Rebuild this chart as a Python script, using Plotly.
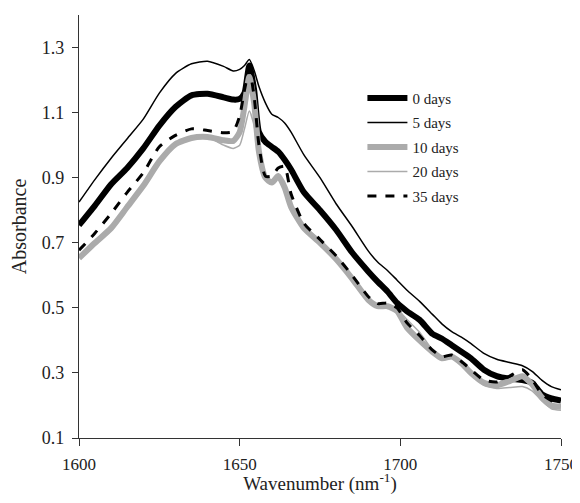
import plotly.graph_objects as go

wavenumber = [1600, 1605, 1610, 1615, 1620, 1625, 1630, 1635, 1640, 1645, 1648, 1650,
              1651.5, 1653, 1654.5, 1656, 1658, 1660, 1662, 1664, 1666, 1670, 1675,
              1680, 1685, 1690, 1693, 1696, 1699, 1702, 1706, 1710, 1713, 1716, 1719,
              1722, 1726, 1730, 1734, 1738, 1741, 1744, 1747, 1750]

days_0 = [0.754, 0.815, 0.88, 0.93, 0.99, 1.06, 1.117, 1.153, 1.158, 1.147, 1.14, 1.142,
          1.16, 1.245, 1.17, 1.04, 1.01, 0.995, 0.98, 0.955, 0.925, 0.855, 0.80,
          0.74, 0.67, 0.612, 0.58, 0.55, 0.515, 0.49, 0.463, 0.42, 0.405, 0.385, 0.365,
          0.345, 0.31, 0.29, 0.282, 0.278, 0.27, 0.235, 0.222, 0.215]

days_5 = [0.825, 0.895, 0.96, 1.02, 1.08, 1.16, 1.22, 1.25, 1.258, 1.242, 1.228, 1.233,
          1.245, 1.263, 1.23, 1.18, 1.13, 1.095, 1.085, 1.068, 1.04, 0.97, 0.90,
          0.82, 0.75, 0.675, 0.64, 0.615, 0.585, 0.555, 0.52, 0.48, 0.45, 0.427, 0.41,
          0.39, 0.36, 0.342, 0.332, 0.322, 0.305, 0.278, 0.258, 0.248]

days_10 = [0.653, 0.70, 0.745, 0.81, 0.875, 0.95, 1.003, 1.022, 1.025, 1.015, 1.013, 1.04,
           1.12, 1.21, 1.13, 0.98, 0.90, 0.885, 0.905, 0.87, 0.81, 0.745, 0.70,
           0.65, 0.59, 0.525, 0.505, 0.505, 0.49, 0.44, 0.40, 0.365, 0.345, 0.35, 0.33,
           0.30, 0.27, 0.262, 0.275, 0.29, 0.265, 0.225, 0.20, 0.196]

days_20 = [0.655, 0.705, 0.75, 0.815, 0.88, 0.955, 1.005, 1.025, 1.025, 1.0, 0.99, 1.0,
           1.05, 1.105, 1.06, 0.96, 0.895, 0.88, 0.90, 0.87, 0.81, 0.745, 0.695,
           0.645, 0.585, 0.52, 0.50, 0.505, 0.495, 0.465, 0.425, 0.37, 0.34, 0.345, 0.325,
           0.295, 0.262, 0.252, 0.255, 0.258, 0.245, 0.215, 0.19, 0.185]

days_35 = [0.677, 0.73, 0.79, 0.855, 0.915, 0.995, 1.03, 1.05, 1.045, 1.038, 1.042, 1.09,
           1.17, 1.232, 1.15, 1.0, 0.905, 0.905, 0.93, 0.935, 0.85, 0.76, 0.71,
           0.66, 0.60, 0.535, 0.513, 0.515, 0.50, 0.455, 0.415, 0.37, 0.35, 0.355, 0.335,
           0.31, 0.278, 0.272, 0.29, 0.31, 0.28, 0.235, 0.215, 0.208]

series_names = ["0 days", "5 days", "10 days", "20 days", "35 days"]
x_ticks = [1600, 1650, 1700, 1750]
y_ticks = [0.1, 0.3, 0.5, 0.7, 0.9, 1.1, 1.3]

GRAY = "#ababab"
styles = [
    dict(color="black", width=6, dash="solid"),
    dict(color="black", width=1.5, dash="solid"),
    dict(color=GRAY, width=6, dash="solid"),
    dict(color=GRAY, width=1.5, dash="solid"),
    dict(color="black", width=3, dash="dash"),
]

fig = go.Figure()
for name, ys, st in zip(series_names, [days_0, days_5, days_10, days_20, days_35], styles):
    fig.add_trace(go.Scatter(
        x=wavenumber, y=ys, name=name, mode="lines",
        line=dict(color=st["color"], width=st["width"], dash=st["dash"],
                  shape="spline", smoothing=0.6),
        legendgroup=name,
    ))

font_family = "Liberation Serif, Times New Roman, serif"
# page body has an 8px default margin, so the figure is sized to fit the window
fig.update_layout(
    width=572, height=487,
    margin=dict(l=71, r=19, t=7, b=57),
    paper_bgcolor="white", plot_bgcolor="white",
    font=dict(family=font_family, color="#222", size=18),
    showlegend=True,
    legend=dict(
        x=0.588, y=0.842, xanchor="left", yanchor="top",
        font=dict(family=font_family, size=15, color="#222"),
        bgcolor="rgba(255,255,255,0)", tracegroupgap=2,
        itemwidth=40,
    ),
)
fig.update_xaxes(
    range=[1600, 1750], tickvals=x_ticks, ticktext=[str(v) for v in x_ticks],
    showline=True, linecolor="#333", linewidth=1.2, ticks="outside", ticklen=7,
    tickcolor="#333", showgrid=False, zeroline=False, automargin=False,
    tickfont=dict(size=17), ticklabelstandoff=3,
    title=dict(text="Wavenumber (nm<sup>-1</sup>)", font=dict(size=19), standoff=5),
)
fig.update_yaxes(
    range=[0.1, 1.4], tickvals=y_ticks, ticktext=[f"{v:.1f}" for v in y_ticks],
    showline=True, linecolor="#333", linewidth=1.2, ticks="outside", ticklen=6,
    tickcolor="#333", showgrid=False, zeroline=False, automargin=False,
    tickfont=dict(size=18), ticklabelstandoff=4,
    title=dict(text="Absorbance", font=dict(size=20), standoff=10),
)

fig.write_html(
    "out.html",
    post_script="document.documentElement.style.overflow='hidden';"
                "document.body.style.overflow='hidden';",
)
